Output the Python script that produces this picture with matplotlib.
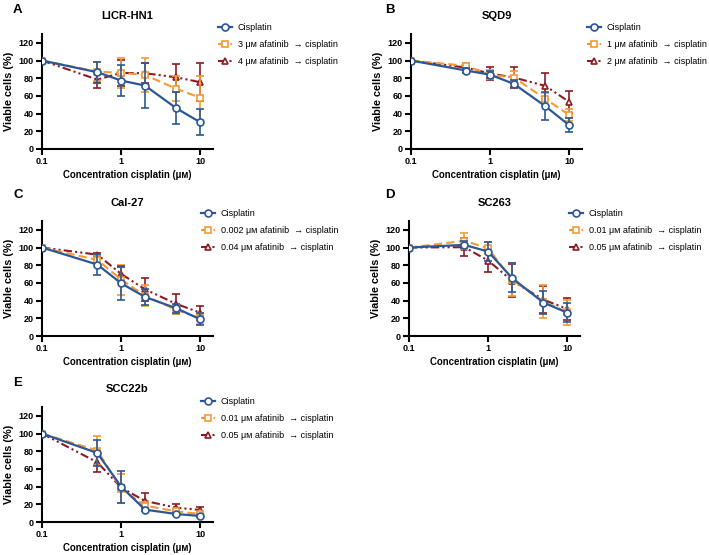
import matplotlib
matplotlib.use("Agg")
import matplotlib.pyplot as plt

plt.rcParams['font.family'] = ['Liberation Sans', 'DejaVu Sans']

conc = [0.1, 0.5, 1, 2, 5, 10]
xticks = [0.1, 1, 10]
xticklabels = ["0.1", "1", "10"]
yticks = [0, 20, 40, 60, 80, 100, 120]

# Panel A: LICR-HN1
a_cis = [100, 86.8, 77.4, 71.7, 46.0, 30.2]
a_cis_err = [0, 12, 18, 25.5, 18, 14.5]
a_org = [100, 87.5, 86.0, 83.8, 68.0, 58.0]
a_org_err = [0, 11, 17, 19.5, 14, 25]
a_red = [100, 78.5, 86.0, 85.7, 81.0, 75.5]
a_red_err = [0, 10, 15, 11, 15, 21.5]

# Panel B: SQD9
b_cis = [100, 88.7, 84.0, 73.6, 48.3, 26.8]
b_cis_err = [0, 2.5, 4, 4, 16, 8]
b_org = [100, 94.0, 83.8, 80.8, 56.6, 38.5]
b_org_err = [0, 3, 5, 7, 7, 7]
b_red = [100, 92.0, 85.3, 80.8, 71.3, 53.2]
b_red_err = [0, 2, 7.5, 12, 15, 12]

# Panel C: Cal-27
c_cis = [100, 80.8, 59.6, 44.2, 31.3, 18.9]
c_cis_err = [0, 12, 19, 9, 5, 7]
c_org = [100, 86.0, 63.8, 45.7, 29.4, 20.0]
c_org_err = [0, 5, 17, 12, 5, 6]
c_red = [100, 92.0, 70.2, 52.8, 36.2, 26.4]
c_red_err = [0, 2, 8, 13, 11, 8]

# Panel D: SC263
d_cis = [100, 103.0, 95.5, 65.7, 37.7, 26.4]
d_cis_err = [0, 4, 11, 16.5, 13, 11]
d_org = [100, 107.5, 99.2, 63.8, 38.9, 26.8]
d_org_err = [0, 9, 7, 19, 19, 14]
d_red = [100, 100.4, 85.3, 62.6, 41.0, 30.6]
d_red_err = [0, 10.5, 12.5, 19, 15, 12]

# Panel E: SCC22b
e_cis = [100, 78.0, 40.0, 14.0, 9.0, 6.8]
e_cis_err = [0, 15, 18, 1.5, 1, 1]
e_org = [100, 80.8, 37.7, 18.5, 12.0, 9.0]
e_org_err = [0, 16, 16, 4, 2, 2]
e_red = [100, 67.5, 39.0, 23.8, 16.2, 13.6]
e_red_err = [0, 11.5, 3, 9, 4, 3]

panels = [
    ("A", "LICR-HN1", a_cis, a_cis_err, a_org, a_org_err, a_red, a_red_err,
     ["Cisplatin", "3 μᴍ afatinib  → cisplatin", "4 μᴍ afatinib  → cisplatin"]),
    ("B", "SQD9", b_cis, b_cis_err, b_org, b_org_err, b_red, b_red_err,
     ["Cisplatin", "1 μᴍ afatinib  → cisplatin", "2 μᴍ afatinib  → cisplatin"]),
    ("C", "Cal-27", c_cis, c_cis_err, c_org, c_org_err, c_red, c_red_err,
     ["Cisplatin", "0.002 μᴍ afatinib  → cisplatin", "0.04 μᴍ afatinib  → cisplatin"]),
    ("D", "SC263", d_cis, d_cis_err, d_org, d_org_err, d_red, d_red_err,
     ["Cisplatin", "0.01 μᴍ afatinib  → cisplatin", "0.05 μᴍ afatinib  → cisplatin"]),
    ("E", "SCC22b", e_cis, e_cis_err, e_org, e_org_err, e_red, e_red_err,
     ["Cisplatin", "0.01 μᴍ afatinib  → cisplatin", "0.05 μᴍ afatinib  → cisplatin"]),
]

W, H = 709, 555
fig = plt.figure(figsize=(W / 100, H / 100), dpi=100)

# (axes left px, axes top px, legend x px, legend top px, letter x px, letter y px)
layout = [
    (42, 34, 218, 22, 13, 4),
    (411, 34, 587, 22, 385, 4),
    (42, 221, 201, 208, 13, 189),
    (409, 221, 569, 208, 385, 189),
    (42, 407, 201, 396, 13, 377),
]
AW, AH = 171, 115

BLUE = "#2b5797"
ORANGE = "#f39a34"
RED = "#8b1c24"

for (letter, title, cis, cise, org, orge, red, rede, labels), (lx, ty, gx, gy, px, py) in zip(panels, layout):
    ax = fig.add_axes([lx / W, 1 - (ty + AH) / H, AW / W, AH / H])
    ax.set_xscale('log')
    h_red = ax.errorbar(conc, red, yerr=rede, color=RED, lw=1.5, ls=(0, (4, 1.5, 1, 1.5, 1, 1.5)),
                        marker='^', ms=5, mfc='white', mec=RED, mew=1.2,
                        capsize=3, elinewidth=1.2, capthick=1.2, zorder=3)
    h_org = ax.errorbar(conc, org, yerr=orge, color=ORANGE, lw=1.5, ls=(0, (4, 2)),
                        marker='s', ms=4.5, mfc='white', mec=ORANGE, mew=1.2,
                        capsize=3, elinewidth=1.2, capthick=1.2, zorder=4)
    h_cis = ax.errorbar(conc, cis, yerr=cise, color=BLUE, lw=1.6, ls='-',
                        marker='o', ms=5, mfc='white', mec=BLUE, mew=1.2,
                        capsize=3, elinewidth=1.2, capthick=1.2, zorder=5)
    for h in (h_red, h_org, h_cis):
        for b in h[2]:
            b.set_linestyle('-')
    ax.set_xlim(0.1, 14.5)
    ax.set_ylim(0, 130)
    ax.set_xticks(xticks)
    ax.set_xticklabels(xticklabels)
    ax.minorticks_off()
    ax.set_yticks(yticks)
    for s in ('top', 'right'):
        ax.spines[s].set_visible(False)
    for s in ('left', 'bottom'):
        ax.spines[s].set_linewidth(1.5)
    ax.tick_params(width=1.5, length=4, labelsize=6.5, pad=2)
    for t in ax.get_xticklabels() + ax.get_yticklabels():
        t.set_fontweight('bold')
    ax.set_xlabel("Concentration cisplatin (μᴍ)", fontsize=6.9, fontweight='bold', labelpad=2.5)
    ax.set_ylabel("Viable cells (%)", fontsize=7.8, fontweight='bold', labelpad=3)
    ax.set_title(title, fontsize=8, fontweight='bold', pad=11)
    fig.text(px / W, 1 - py / H, letter, fontsize=9.5, fontweight='bold', va='top', ha='left')
    ax.legend([h_cis[0], h_org[0], h_red[0]], labels, loc='upper left',
              bbox_to_anchor=(gx / W, 1 - (gy + 1) / H), bbox_transform=fig.transFigure,
              frameon=False, fontsize=6.5, handlelength=1.6, handletextpad=0.6,
              labelspacing=0.88, borderpad=0, borderaxespad=0)

fig.savefig("out.png", dpi=100)
